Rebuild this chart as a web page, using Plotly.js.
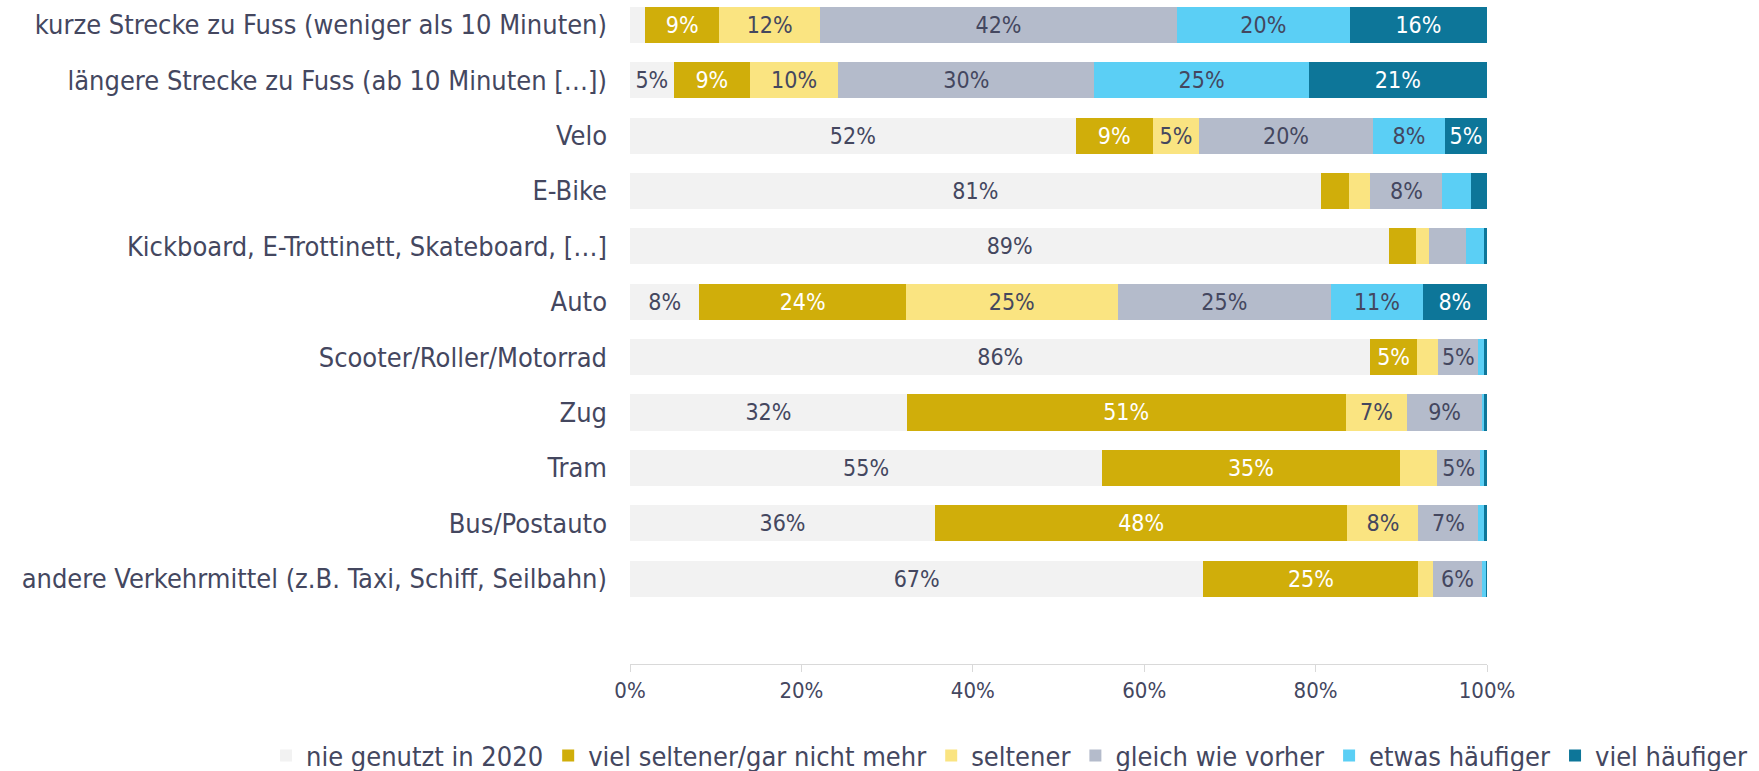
<!DOCTYPE html>
<html>
<head>
<meta charset="utf-8">
<script src="https://cdn.plot.ly/plotly-3.0.1.min.js"></script>
<style>html,body{margin:0;padding:0;background:#fff;}#chart{width:1759px;height:771px;}</style>
</head>
<body>
<div id="chart"></div>
<script>
const categories = [
  "kurze Strecke zu Fuss (weniger als 10 Minuten)",
  "längere Strecke zu Fuss (ab 10 Minuten […])",
  "Velo",
  "E-Bike",
  "Kickboard, E-Trottinett, Skateboard, […]",
  "Auto",
  "Scooter/Roller/Motorrad",
  "Zug",
  "Tram",
  "Bus/Postauto",
  "andere Verkehrmittel (z.B. Taxi, Schiff, Seilbahn)"
];
const seriesNames = ["nie genutzt in 2020", "viel seltener/gar nicht mehr", "seltener", "gleich wie vorher", "etwas häufiger", "viel häufiger"];
const nieGenutzt   = [1.8, 5.1, 52.0, 80.6, 88.6, 8.1, 86.4, 32.3, 55.1, 35.6, 66.9];
const vielSeltener = [8.6, 8.9, 9.0, 3.3, 3.1, 24.1, 5.4, 51.2, 34.7, 48.1, 25.1];
const seltener     = [11.8, 10.3, 5.4, 2.5, 1.5, 24.7, 2.5, 7.2, 4.4, 8.3, 1.7];
const gleich       = [41.6, 29.9, 20.3, 8.4, 4.4, 24.9, 4.7, 8.7, 5.0, 7.0, 5.7];
const etwas        = [20.2, 25.0, 8.4, 3.3, 2.1, 10.7, 0.6, 0.3, 0.4, 0.6, 0.5];
const vielHaeufiger= [16.0, 20.8, 4.9, 1.9, 0.3, 7.5, 0.4, 0.3, 0.4, 0.4, 0.1];
const xTicks = [0, 20, 40, 60, 80, 100];

const seriesValues = [nieGenutzt, vielSeltener, seltener, gleich, etwas, vielHaeufiger];
const colors = ["#f2f2f2", "#d0ae0a", "#fae481", "#b4bbcb", "#5bcff5", "#0d7699"];
const textColors = ["#44475f", "#ffffff", "#44475f", "#44475f", "#44475f", "#ffffff"];
const FONT = "'DejaVu Sans Condensed', 'Open Sans', sans-serif";
const TXT = "#44475f";

const traces = seriesValues.map((vals, i) => ({
  type: "bar",
  orientation: "h",
  name: seriesNames[i],
  y: categories,
  x: vals,
  marker: {color: colors[i], line: {width: 0}},
  text: vals.map(v => v >= 4.5 ? Math.round(v) + "%" : ""),
  textposition: "inside",
  insidetextanchor: "middle",
  textangle: 0,
  textfont: {family: FONT, size: 23, color: textColors[i]},
  hoverinfo: "skip"
}));

const layout = {
  width: 1759,
  height: 771,
  barmode: "stack",
  bargap: 0.35,
  paper_bgcolor: "#ffffff",
  plot_bgcolor: "#ffffff",
  margin: {l: 630, r: 272, t: 0, b: 107, autoexpand: false},
  font: {family: FONT, size: 22, color: TXT},
  uniformtext: {mode: "show", minsize: 23},
  xaxis: {
    range: [0, 100],
    tickvals: xTicks,
    ticktext: xTicks.map(v => v + "%"),
    showgrid: false,
    zeroline: false,
    showline: true,
    linecolor: "#d9d9d9",
    linewidth: 1,
    ticks: "outside",
    ticklen: 7,
    tickcolor: "#d9d9d9",
    tickfont: {family: FONT, size: 22, color: TXT},
    automargin: false,
    fixedrange: true
  },
  yaxis: {
    type: "category",
    range: [11.54, -0.446],
    showgrid: false,
    zeroline: false,
    showline: false,
    ticks: "",
    ticklabelstandoff: 22,
    tickfont: {family: FONT, size: 27, color: TXT},
    automargin: false,
    fixedrange: true
  },
  showlegend: true,
  legend: {
    orientation: "h",
    x: -0.4247,
    xanchor: "left",
    y: -0.1386,
    yanchor: "middle",
    font: {family: FONT, size: 27, color: TXT},
    traceorder: "normal",
    itemwidth: 30,
    bgcolor: "rgba(0,0,0,0)"
  }
};

Plotly.newPlot("chart", traces, layout, {displayModeBar: false, staticPlot: true});
</script>
</body>
</html>
